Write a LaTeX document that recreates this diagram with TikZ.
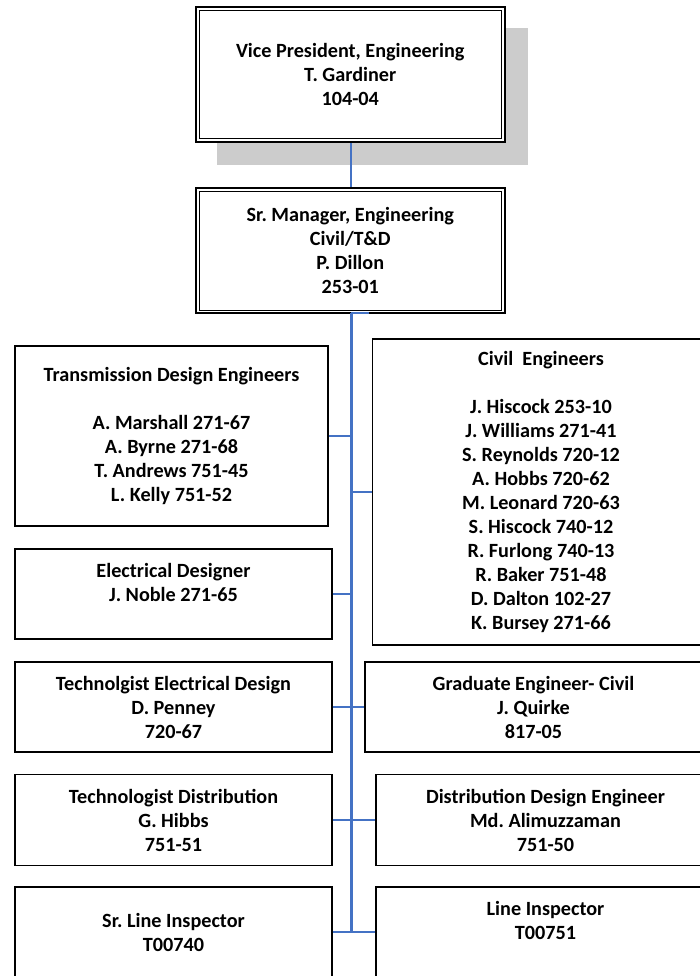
\documentclass[tikz,border=0pt]{standalone}
\usepackage{fontspec}
\setmainfont{Carlito}
\frenchspacing
\newcommand\orgfont{\fontsize{20.2}{24}\selectfont\bfseries\frenchspacing}
\definecolor{connblue}{RGB}{68,114,196}
\definecolor{shadowgray}{RGB}{204,204,204}
\tikzset{
  orgbox/.style={draw, line width=1.4pt, fill=white, inner sep=0pt, align=center, font=\orgfont},
  topbox/.style={orgbox, line width=2pt},
  conn/.style={draw=connblue, line width=1.4pt},
  spine/.style={draw=connblue, line width=3pt},
}
\begin{document}
\begin{tikzpicture}[x=1pt,y=-1pt]
\useasboundingbox (0,0) rectangle (700,976);
\fill[white] (0,0) rectangle (700,976);
\begin{scope}
\clip (0,0) rectangle (700,976);
% shadow of top box
\fill[shadowgray] (217,28) rectangle (528,165);
% top boxes
\node[topbox, minimum width=308.5pt, minimum height=135.5pt] (vp) at (350.25,74.75)
  {Vice President, Engineering\\T. Gardiner\\104-04};
\draw[line width=1pt] ([xshift=4.5pt,yshift=-5pt]vp.north west) rectangle ([xshift=-4.5pt,yshift=5pt]vp.south east);
\node[topbox, minimum width=308.5pt, minimum height=125pt] (mgr) at (350.25,250.5)
  {Sr. Manager, Engineering\\Civil/T\&D\\P. Dillon\\253-01};
\draw[line width=1pt] ([xshift=4.5pt,yshift=-4.5pt]mgr.north west) rectangle ([xshift=-4.5pt,yshift=4pt]mgr.south east);
% spine coordinates
\coordinate (spineTop) at (351,313);
\coordinate (spineBot) at (351,932);
\coordinate (stub) at (369,313);
% left boxes
\node[orgbox, minimum width=313pt, minimum height=180pt] (tde) at (171.5,436)
  {Transmission Design Engineers\\ \mbox{}\\A. Marshall 271-67\\A. Byrne 271-68\\T. Andrews 751-45\\L. Kelly 751-52};
\node[orgbox, minimum width=317pt, minimum height=90pt] (eld) at (173.5,594)
  {Electrical Designer\\J. Noble 271-65\\ \mbox{}};
\node[orgbox, minimum width=317pt, minimum height=90pt] (ted) at (173.5,707)
  {Technolgist Electrical Design\\D. Penney\\720-67};
\node[orgbox, minimum width=317pt, minimum height=91pt] (tdi) at (173.5,820)
  {Technologist Distribution\\G. Hibbs\\751-51};
\node[orgbox, minimum width=317pt, minimum height=90pt] (sli) at (173.5,932)
  {Sr. Line Inspector\\T00740};
% right boxes
\node[orgbox, minimum width=337.5pt, minimum height=306pt] (civ) at (541,492)
  {Civil\ \ Engineers\\ \mbox{}\\J. Hiscock 253-10\\J. Williams 271-41\\S. Reynolds 720-12\\A. Hobbs 720-62\\M. Leonard 720-63\\S. Hiscock 740-12\\R. Furlong 740-13\\R. Baker 751-48\\D. Dalton 102-27\\K. Bursey 271-66};
\node[orgbox, minimum width=337pt, minimum height=90pt] (gec) at (533.5,707)
  {Graduate Engineer- Civil\\J. Quirke\\817-05};
\node[orgbox, minimum width=339pt, minimum height=91pt] (dde) at (545.5,820)
  {Distribution Design Engineer\\Md. Alimuzzaman\\751-50};
\node[orgbox, minimum width=339pt, minimum height=90pt] (li) at (545.5,932)
  {Line Inspector\\T00751\\ \mbox{}};
% connectors
\draw[conn] (vp.south -| spineTop) -- (mgr.north -| spineTop);
\draw[spine] (spineTop) -- (spineBot);
\draw[conn, line width=2pt] (spineTop) -- (stub);
\draw[conn] (tde.east) -- (tde.east -| spineTop);
\draw[conn] (civ.west) -- (civ.west -| spineTop);
\draw[conn] (eld.east) -- (eld.east -| spineTop);
\draw[conn] (ted.east) -- (gec.west);
\draw[conn] (tdi.east) -- (dde.west);
\draw[conn] (sli.east) -- (li.west);
\end{scope}
\end{tikzpicture}
\end{document}
